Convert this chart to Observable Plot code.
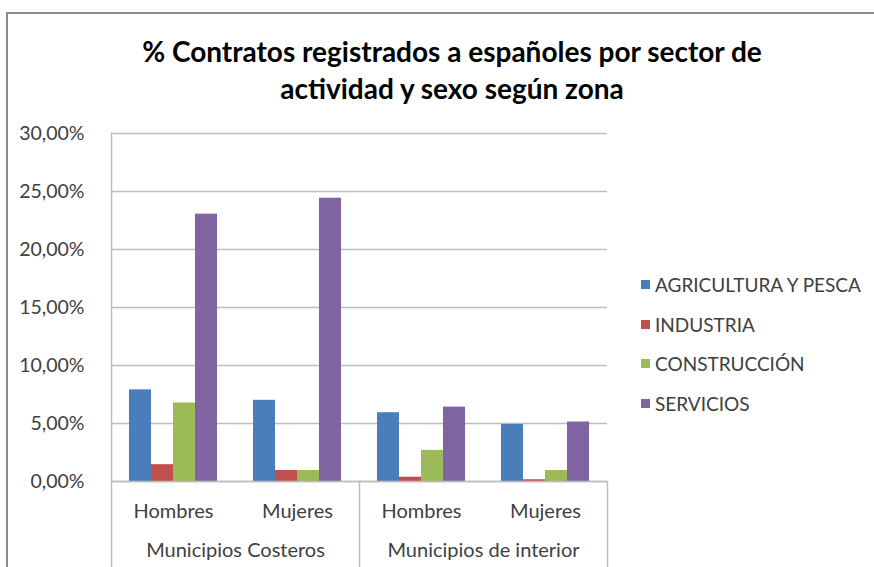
<!DOCTYPE html>
<html><head><meta charset="utf-8">
<script src="https://cdn.jsdelivr.net/npm/d3@7"></script>
<script src="https://cdn.jsdelivr.net/npm/@observablehq/plot@0.6"></script>
<style>
html,body{margin:0;padding:0;background:#fff;}
body{width:874px;height:567px;position:relative;overflow:hidden;font-family:Lato,"Open Sans",sans-serif;}
#border{position:absolute;left:6px;top:12px;width:900px;height:600px;border-top:2px solid #8c8c8c;border-left:2px solid #8c8c8c;}
#title{position:absolute;left:52px;width:800px;top:33px;text-align:center;font-weight:bold;font-size:28px;line-height:37px;color:#000;}
#chart{position:absolute;left:0;top:0;}
#legend{position:absolute;left:641px;top:265px;}
.lg-swatch{height:39.5px !important;font-size:19px !important;color:#404040 !important;padding-bottom:0 !important;font-family:Lato,"Open Sans",sans-serif !important;}
.lg-swatches{margin:0 !important;font-family:Lato,"Open Sans",sans-serif !important;}
.lg-swatch svg{margin-right:5px !important;}
</style>
</head><body>
<div id="border"></div>
<div id="chart"></div>
<div id="title">% Contratos registrados a españoles por sector de<br>actividad y sexo según zona</div>
<div id="legend"></div>
<script>
const zones = ["Municipios Costeros", "Municipios de interior"];
const sexes = ["Hombres", "Mujeres"];
const sectors = ["AGRICULTURA Y PESCA", "INDUSTRIA", "CONSTRUCCIÓN", "SERVICIOS"];
// values per group: Costeros-Hombres, Costeros-Mujeres, Interior-Hombres, Interior-Mujeres
const agricultura = [7.90, 7.00, 5.93, 4.92];
const industria = [1.45, 0.95, 0.37, 0.15];
const construccion = [6.77, 0.95, 2.68, 0.95];
const servicios = [23.05, 24.42, 6.41, 5.13];
const yTicks = [0, 5, 10, 15, 20, 25, 30];
const colors = ["#4a7ebb", "#c0504d", "#9bbb59", "#8064a2"];

const groupKeys = zones.flatMap(z => sexes.map(s => z + "|" + s));
const series = [agricultura, industria, construccion, servicios];
const data = groupKeys.flatMap((g, gi) => sectors.map((s, si) => ({group: g, sector: s, value: series[si][gi]})));

const fmt = d => d.toFixed(2).replace(".", ",") + "%";
const lineColor = "#bdbdbd";

const chart = Plot.plot({
  width: 874, height: 567,
  marginTop: 133, marginBottom: 86, marginLeft: 110, marginRight: 266,
  style: {fontFamily: "Lato, 'Open Sans', sans-serif", fontSize: "19px", color: "#404040", background: "transparent"},
  fx: {domain: groupKeys, padding: 0},
  x: {domain: sectors, paddingInner: 0, paddingOuter: 0.75, axis: null},
  y: {domain: [0, 30]},
  color: {domain: sectors, range: colors},
  marks: [
    Plot.gridY(yTicks, {stroke: lineColor, strokeOpacity: 1, strokeWidth: 1.5}),
    Plot.barY(data, {fx: "group", x: "sector", y: "value", fill: "sector"}),
    Plot.ruleY([0], {stroke: lineColor, strokeWidth: 1.5}),
    Plot.frame({anchor: "left", fx: [groupKeys[0]], stroke: lineColor, strokeWidth: 1.5, insetBottom: -86}),
    Plot.frame({anchor: "left", fx: [groupKeys[2]], stroke: lineColor, strokeWidth: 1.5, insetTop: 348, insetBottom: -86}),
    Plot.frame({anchor: "right", fx: [groupKeys[3]], stroke: lineColor, strokeWidth: 1.5, insetTop: 348, insetBottom: -86}),
    Plot.axisY({ticks: yTicks, tickFormat: fmt, tickSize: 0, tickPadding: 27, label: null, fontSize: 19.5}),
    Plot.axisFx({anchor: "bottom", tickFormat: d => d.split("|")[1], tickSize: 0, tickPadding: 22, label: null, fontSize: 20}),
    Plot.text(zones, {fx: d => d + "|" + sexes[0], frameAnchor: "bottom-right", dy: 75, text: d => d, textAnchor: "middle", fontSize: 20, fill: "#404040"})
  ]
});
document.getElementById("chart").appendChild(chart);

const legend = Plot.legend({
  color: {domain: sectors, range: colors},
  legend: "swatches", columns: 1, swatchSize: 9, className: "lg"
});
document.getElementById("legend").appendChild(legend);
</script>
</body></html>
